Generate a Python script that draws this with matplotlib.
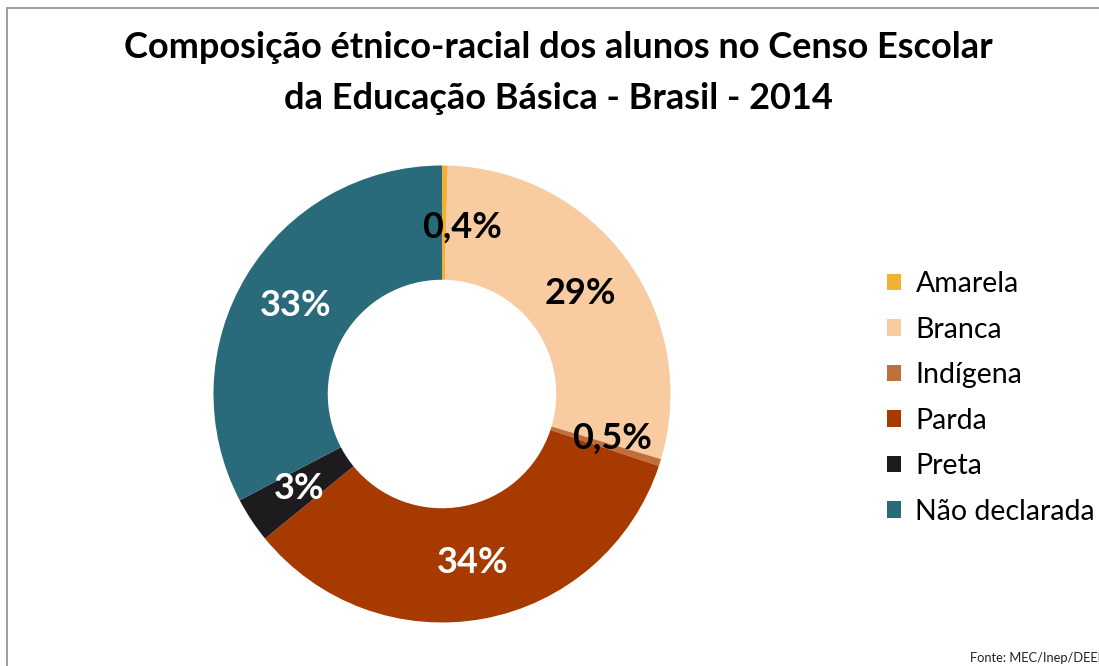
import numpy as np
import matplotlib
matplotlib.use('Agg')
import matplotlib.pyplot as plt
from matplotlib.patches import Rectangle

plt.rcParams['font.family'] = ['Lato', 'DejaVu Sans']

categories = ['Amarela', 'Branca', 'Indígena', 'Parda', 'Preta', 'Não declarada']
shares     = [0.4, 29.2, 0.5, 34.0, 3.2, 32.7]
labels     = ['0,4%', '29%', '0,5%', '34%', '3%', '33%']
colors     = ['#F2B035', '#F8CBA1', '#BF6F3B', '#A73A00', '#1D1B1E', '#296A7B']
lab_colors = ['black', 'black', 'black', 'white', 'white', 'white']
title      = 'Composição étnico-racial dos alunos no Censo Escolar\nda Educação Básica - Brasil - 2014'
source     = 'Fonte: MEC/Inep/DEED'

W, H = 1099, 666
fig = plt.figure(figsize=(W / 100, H / 100), dpi=100)

# donut axes, placed in pixels: centre (442, 394), radius ~228
cx, cy, r = 442, 394, 228.5
ax = fig.add_axes([(cx - r) / W, (H - cy - r) / H, 2 * r / W, 2 * r / H])
wedges, _ = ax.pie(shares, colors=colors, startangle=90, counterclock=False,
                   radius=1.0, wedgeprops=dict(width=0.5, linewidth=0))
ax.set_xlim(-1, 1)
ax.set_ylim(-1, 1)
ax.set_aspect('equal')
ax.axis('off')

# data labels at the middle of each ring segment
nudge = {0: (0.08, -0.02), 2: (0.03, 0.03)}
tot = sum(shares)
cum = np.cumsum([0] + shares[:-1])
for i, (s, c0) in enumerate(zip(shares, cum)):
    ang = np.deg2rad(90 - 360 * (c0 + s / 2) / tot)
    x, y = 0.75 * np.cos(ang), 0.75 * np.sin(ang)
    dx, dy = nudge.get(i, (0, 0))
    ax.text(x + dx, y + dy, labels[i], ha='center', va='center',
            fontsize=26, fontweight='bold', color=lab_colors[i])

# legend
fig.legend(wedges, categories, loc='upper left', bbox_to_anchor=(887 / W, 1 - 271 / H),
           frameon=False, fontsize=20.5, handlelength=0.5, handleheight=0.5,
           handletextpad=0.5, labelspacing=0.685, borderpad=0, borderaxespad=0)

fig.text(558 / W, 1 - 30.5 / H, title, ha='center', va='top', fontsize=26,
         fontweight='bold', linespacing=1.7)
fig.text(970 / W, 1 - 662 / H, source, ha='left', va='baseline', fontsize=9.3, color='#222222')

# chart area frame (cut by the right and bottom edges)
fig.patches.append(Rectangle((6.5 / W, -0.1), 1.2, 1.1 - 8.5 / H, transform=fig.transFigure,
                             fill=False, edgecolor='#8C8C8C', linewidth=1.2))

fig.savefig('out.png', dpi=100)
